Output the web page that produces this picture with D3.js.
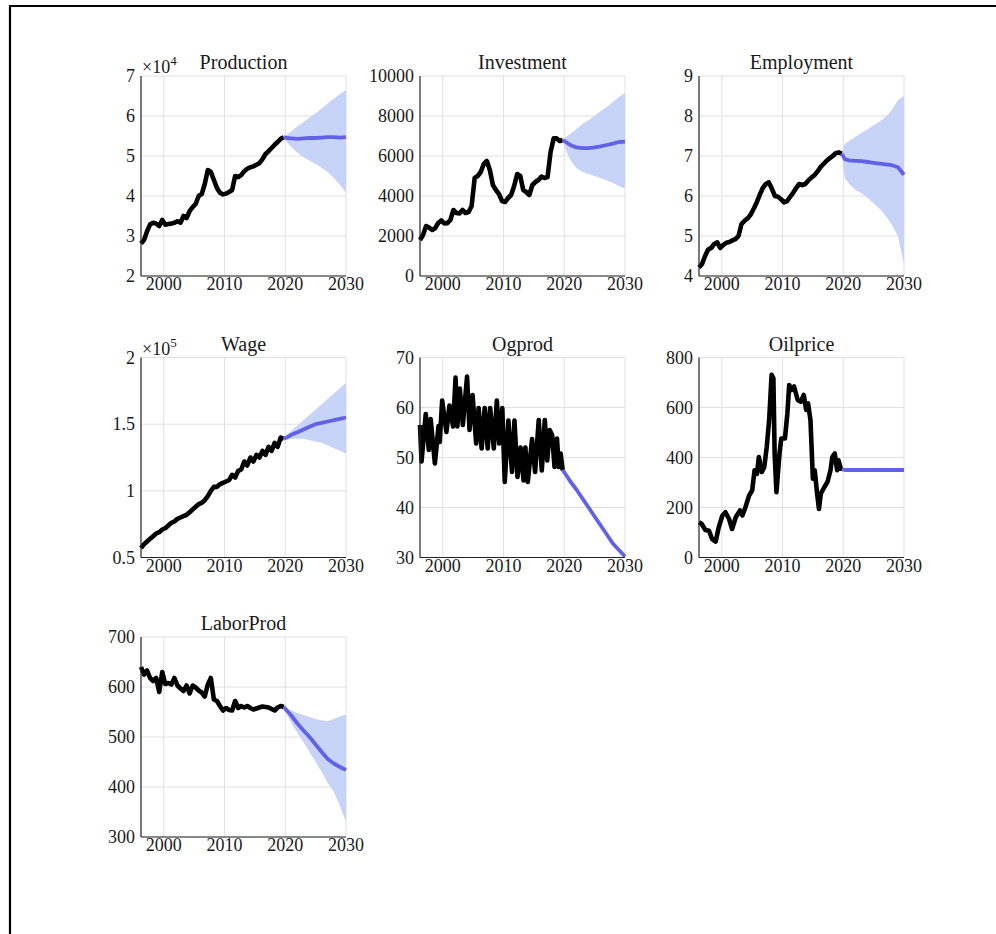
<!DOCTYPE html>
<html>
<head>
<meta charset="utf-8">
<script src="https://cdn.jsdelivr.net/npm/d3@7"></script>
<style>
  body { margin: 0; background: #fff; }
  text { font-family: "Liberation Serif", "Times New Roman", serif; fill: #1a1a1a; }
</style>
</head>
<body>
<div id="chart"></div>
<script>
// ---------------------------------------------------------------------------
// Data
// ---------------------------------------------------------------------------

// history: half-year steps from 1996.25 to 2019.75
const halfYears = d3.range(48).map(i => 1996.25 + i * 0.5)

// forecast horizon
const fcYears = [2019.75, 2020.25, 2021, 2022, 2023, 2024, 2025, 2026, 2027, 2028, 2029, 2030]

const xTicks = [2000, 2010, 2020, 2030]

// Production (x 10^4)
const productionHist = [2.81, 2.9, 3.12, 3.29, 3.33, 3.31, 3.25, 3.4, 3.28, 3.3, 3.31, 3.33,
  3.37, 3.33, 3.5, 3.45, 3.62, 3.72, 3.8, 4.0, 4.05, 4.3, 4.65, 4.6, 4.4, 4.2, 4.08, 4.04,
  4.06, 4.1, 4.15, 4.5, 4.47, 4.52, 4.62, 4.68, 4.72, 4.74, 4.78, 4.82, 4.92, 5.05, 5.12,
  5.2, 5.28, 5.35, 5.43, 5.47]
const productionMean  = [5.47, 5.45, 5.44, 5.43, 5.44, 5.45, 5.45, 5.46, 5.47, 5.47, 5.46, 5.47]
const productionUpper = [5.47, 5.53, 5.62, 5.74, 5.85, 5.96, 6.07, 6.19, 6.31, 6.43, 6.55, 6.65]
const productionLower = [5.47, 5.35, 5.22, 5.08, 4.97, 4.88, 4.8, 4.7, 4.6, 4.45, 4.28, 4.08]

// Investment
const investmentHist = [1800, 2050, 2500, 2420, 2300, 2390, 2650, 2780, 2630, 2640, 2800, 3300,
  3150, 3130, 3300, 3150, 3200, 3500, 4900, 5000, 5200, 5600, 5750, 5300, 4550, 4300, 4100,
  3750, 3700, 3900, 4050, 4500, 5100, 5000, 4300, 4200, 4050, 4550, 4700, 4800, 4970, 4900,
  4950, 6200, 6880, 6880, 6750, 6800]
const investmentMean  = [6800, 6700, 6550, 6430, 6390, 6390, 6430, 6480, 6550, 6620, 6700, 6720]
const investmentUpper = [6800, 6950, 7100, 7350, 7600, 7800, 8000, 8250, 8450, 8700, 8950, 9150]
const investmentLower = [6800, 6300, 5800, 5400, 5200, 5100, 5000, 4900, 4780, 4650, 4500, 4380]

// Employment
const employmentHist = [4.21, 4.3, 4.5, 4.66, 4.7, 4.8, 4.84, 4.7, 4.78, 4.83, 4.85, 4.89,
  4.92, 5.0, 5.3, 5.38, 5.44, 5.53, 5.68, 5.84, 6.03, 6.2, 6.3, 6.34, 6.18, 6.0, 5.98, 5.92,
  5.84, 5.87, 5.98, 6.08, 6.2, 6.3, 6.27, 6.3, 6.39, 6.46, 6.52, 6.61, 6.72, 6.8, 6.88, 6.94,
  7.0, 7.07, 7.09, 7.06]
const employmentMean  = [7.06, 6.92, 6.89, 6.88, 6.87, 6.85, 6.83, 6.81, 6.79, 6.77, 6.72, 6.53]
const employmentUpper = [7.08, 7.3, 7.38, 7.48, 7.58, 7.67, 7.77, 7.86, 7.98, 8.15, 8.4, 8.5]
const employmentLower = [7.08, 6.45, 6.3, 6.15, 6.07, 5.95, 5.82, 5.68, 5.5, 5.28, 5.0, 4.3]

// Wage (x 10^5)
const wageHist = [0.57, 0.6, 0.62, 0.64, 0.66, 0.68, 0.69, 0.71, 0.72, 0.74, 0.76, 0.77,
  0.79, 0.8, 0.81, 0.82, 0.84, 0.86, 0.88, 0.9, 0.91, 0.93, 0.96, 1.0, 1.03, 1.03, 1.05, 1.06,
  1.07, 1.08, 1.12, 1.1, 1.15, 1.16, 1.22, 1.19, 1.25, 1.22, 1.27, 1.25, 1.3, 1.27, 1.33, 1.3,
  1.36, 1.33, 1.4, 1.39]
const wageMean  = [1.39, 1.4, 1.42, 1.44, 1.46, 1.48, 1.5, 1.51, 1.52, 1.53, 1.54, 1.55]
const wageUpper = [1.39, 1.42, 1.45, 1.49, 1.53, 1.57, 1.61, 1.65, 1.69, 1.73, 1.77, 1.81]
const wageLower = [1.39, 1.39, 1.39, 1.39, 1.39, 1.38, 1.37, 1.36, 1.34, 1.32, 1.3, 1.28]

// Ogprod (irregular dates: peaks and troughs)
const ogprodYears = [1996.25, 1996.5, 1997.2, 1997.7, 1998.0, 1998.7, 1999.3, 1999.5, 1999.9,
  2000.6, 2001.1, 2001.7, 2002.1, 2002.4, 2002.8, 2003.3, 2004.0, 2004.4, 2004.9, 2005.5,
  2005.9, 2006.4, 2006.9, 2007.4, 2007.8, 2008.4, 2008.9, 2009.3, 2009.8, 2010.2, 2010.8,
  2011.4, 2011.8, 2012.3, 2012.8, 2013.3, 2013.6, 2014.0, 2014.7, 2015.2, 2015.8, 2016.3,
  2016.8, 2017.2, 2017.6, 2018.0, 2018.4, 2018.8, 2019.1, 2019.4, 2019.75]
const ogprodHist = [56.5, 49.2, 58.7, 51.5, 57.7, 48.8, 56.3, 53.1, 61.4, 55.1, 60.4, 56.2,
  66.0, 56.2, 63.8, 56.5, 66.2, 55.5, 62.5, 52.8, 59.9, 51.8, 59.9, 51.8, 59.9, 51.8, 61.4,
  52.8, 59.9, 45.1, 57.4, 47.1, 57.4, 46.1, 52.0, 45.4, 52.0, 45.1, 53.7, 47.1, 57.5, 47.4,
  57.5, 49.4, 55.5, 54.5, 48.1, 53.8, 48.1, 50.8, 47.4]
const ogprodMean = [47.5, 46.6, 45.2, 43.6, 41.8, 40.0, 38.2, 36.4, 34.6, 32.8, 31.5, 30.2]

// Oilprice (irregular dates)
const oilYears = [1996.25, 1996.7, 1997.3, 1997.9, 1998.4, 1999.0, 1999.5, 2000.1, 2000.6,
  2001.2, 2001.7, 2002.3, 2003.0, 2003.4, 2003.9, 2004.5, 2005.0, 2005.4, 2005.8, 2006.1,
  2006.6, 2007.0, 2007.4, 2007.8, 2008.2, 2008.5, 2008.7, 2009.0, 2009.5, 2009.8, 2010.4,
  2010.8, 2011.1, 2011.5, 2011.9, 2012.5, 2013.0, 2013.5, 2013.9, 2014.2, 2014.6, 2015.0,
  2015.3, 2015.7, 2016.0, 2016.3, 2016.9, 2017.4, 2017.9, 2018.2, 2018.6, 2019.0, 2019.2,
  2019.6, 2019.75]
const oilHist = [141, 134, 110, 107, 74, 64, 121, 168, 181, 154, 114, 161, 188, 168, 201, 248,
  268, 349, 335, 402, 342, 362, 442, 550, 731, 717, 416, 261, 416, 476, 476, 576, 690, 670,
  684, 630, 623, 650, 590, 617, 550, 315, 349, 255, 194, 255, 282, 302, 349, 402, 416, 349,
  389, 355, 362]
const oilMean = [352, 350, 350, 350, 350, 350, 350, 350, 350, 350, 350, 350]

// LaborProd
const laborHist = [640, 625, 633, 618, 612, 618, 590, 630, 606, 608, 605, 618, 603, 597, 592,
  603, 587, 603, 599, 593, 589, 581, 605, 618, 575, 572, 562, 553, 558, 554, 553, 572, 558,
  562, 559, 562, 558, 555, 557, 559, 561, 560, 559, 556, 553, 559, 562, 560]
const laborMean  = [560, 553, 543, 527, 513, 500, 485, 470, 456, 447, 440, 434]
const laborUpper = [560, 557, 553, 548, 544, 540, 536, 533, 532, 536, 541, 545]
const laborLower = [560, 545, 528, 508, 490, 470, 450, 430, 408, 390, 362, 330]

const panels = [
  { title: "Production", yDomain: [2, 7], yTicks: [2, 3, 4, 5, 6, 7], exp: "4",
    years: halfYears, hist: productionHist, mean: productionMean, upper: productionUpper, lower: productionLower },
  { title: "Investment", yDomain: [0, 10000], yTicks: [0, 2000, 4000, 6000, 8000, 10000],
    years: halfYears, hist: investmentHist, mean: investmentMean, upper: investmentUpper, lower: investmentLower },
  { title: "Employment", yDomain: [4, 9], yTicks: [4, 5, 6, 7, 8, 9],
    years: halfYears, hist: employmentHist, mean: employmentMean, upper: employmentUpper, lower: employmentLower },
  { title: "Wage", yDomain: [0.5, 2], yTicks: [0.5, 1, 1.5, 2], exp: "5",
    years: halfYears, hist: wageHist, mean: wageMean, upper: wageUpper, lower: wageLower },
  { title: "Ogprod", yDomain: [30, 70], yTicks: [30, 40, 50, 60, 70],
    years: ogprodYears, hist: ogprodHist, mean: ogprodMean },
  { title: "Oilprice", yDomain: [0, 800], yTicks: [0, 200, 400, 600, 800],
    years: oilYears, hist: oilHist, mean: oilMean },
  { title: "LaborProd", yDomain: [300, 700], yTicks: [300, 400, 500, 600, 700],
    years: halfYears, hist: laborHist, mean: laborMean, upper: laborUpper, lower: laborLower },
]

// ---------------------------------------------------------------------------
// Layout
// ---------------------------------------------------------------------------
const W = 996, H = 934
const colX = [141, 420, 699]
const rowY = [76, 357.5, 637]
const pw = 205, ph = 200

const svg = d3.select("#chart").append("svg")
  .attr("width", W)
  .attr("height", H)

// figure frame (left and top edges only)
svg.append("path")
  .attr("d", `M10,${H} V6 H${W}`)
  .attr("fill", "none")
  .attr("stroke", "#000")
  .attr("stroke-width", 2.2)

panels.forEach((p, i) => {
  const g = svg.append("g")
    .attr("transform", `translate(${colX[i % 3]},${rowY[Math.floor(i / 3)]})`)

  const x = d3.scaleLinear().domain([1996.25, 2030]).range([0, pw])
  const y = d3.scaleLinear().domain(p.yDomain).range([ph, 0])

  // grid
  g.append("g").selectAll("line").data(xTicks).join("line")
    .attr("x1", d => x(d)).attr("x2", d => x(d))
    .attr("y1", 0).attr("y2", ph)
    .attr("stroke", "#e0e0e0").attr("stroke-width", 1)
  g.append("g").selectAll("line").data(p.yTicks).join("line")
    .attr("x1", 0).attr("x2", pw)
    .attr("y1", d => y(d)).attr("y2", d => y(d))
    .attr("stroke", "#e0e0e0").attr("stroke-width", 1)

  // confidence band
  if (p.upper) {
    const band = fcYears.map((t, k) => ({ t: t, lo: p.lower[k], hi: p.upper[k] }))
    g.append("path")
      .datum(band)
      .attr("fill", "#c7d4f8")
      .attr("d", d3.area().x(d => x(d.t)).y0(d => y(d.lo)).y1(d => y(d.hi)))
  }

  // history
  g.append("path")
    .datum(p.years.map((t, k) => [t, p.hist[k]]))
    .attr("fill", "none")
    .attr("stroke", "#000")
    .attr("stroke-width", 4.6)
    .attr("stroke-linejoin", "round")
    .attr("d", d3.line().x(d => x(d[0])).y(d => y(d[1])))

  // forecast mean
  g.append("path")
    .datum(fcYears.map((t, k) => [t, p.mean[k]]))
    .attr("fill", "none")
    .attr("stroke", "#6262e8")
    .attr("stroke-width", 3.8)
    .attr("stroke-linejoin", "round")
    .attr("d", d3.line().x(d => x(d[0])).y(d => y(d[1])))

  // axes lines
  g.append("line").attr("x1", 0).attr("x2", 0).attr("y1", 0).attr("y2", ph)
    .attr("stroke", "#222").attr("stroke-width", 1.2)
  g.append("line").attr("x1", 0).attr("x2", pw).attr("y1", ph).attr("y2", ph)
    .attr("stroke", "#222").attr("stroke-width", 1.2)

  // tick labels
  g.append("g").selectAll("text").data(p.yTicks).join("text")
    .attr("x", -6)
    .attr("y", d => y(d))
    .attr("dy", "0.34em")
    .attr("text-anchor", "end")
    .attr("font-size", 18)
    .text(d => String(d))
  g.append("g").selectAll("text").data(xTicks).join("text")
    .attr("x", d => x(d))
    .attr("y", ph + 14)
    .attr("text-anchor", "middle")
    .attr("font-size", 18)
    .text(d => d)

  // title
  g.append("text")
    .attr("x", pw / 2)
    .attr("y", -7)
    .attr("text-anchor", "middle")
    .attr("font-size", 20)
    .text(p.title)

  // exponent label
  if (p.exp) {
    const t = g.append("text")
      .attr("x", 1)
      .attr("y", -3)
      .attr("font-size", 18)
    t.append("tspan").text("\u00d710")
    t.append("tspan").attr("dy", -8).attr("font-size", 13).text(p.exp)
  }
})
</script>
</body>
</html>
